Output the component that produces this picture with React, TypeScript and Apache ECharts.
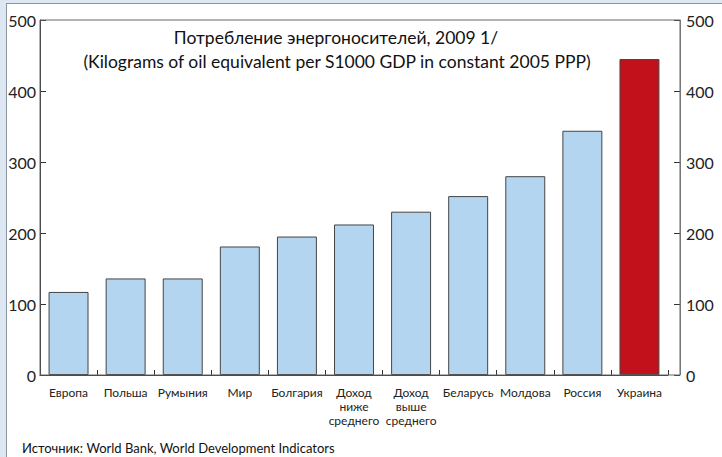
import React, { useEffect, useRef } from "react";
import * as echarts from "echarts";

const categories = [
  "Европа",
  "Польша",
  "Румыния",
  "Мир",
  "Болгария",
  "Доход\nниже\nсреднего",
  "Доход\nвыше\nсреднего",
  "Беларусь",
  "Молдова",
  "Россия",
  "Украина",
];
const values = [117, 136, 136, 181, 195, 212, 230, 252, 280, 344, 445];
const highlightIndex = 10;
const yTicks = { min: 0, max: 500, interval: 100 };
const titleLines = [
  "Потребление энергоносителей, 2009 1/",
  "(Kilograms of oil equivalent per S1000 GDP in constant 2005 PPP)",
];
const sourceText = "Источник: World Bank, World Development Indicators";

const FONT = "Lato, 'Noto Sans', sans-serif";

export default function App() {
  const ref = useRef<HTMLDivElement>(null);
  useEffect(() => {
    if (!ref.current) return;
    const chart = echarts.init(ref.current, null, { renderer: "svg" });
    const option = {
      animation: false,
      textStyle: { fontFamily: FONT },
      grid: { left: 40, right: 54, top: 20, bottom: 82, containLabel: false },
      xAxis: {
        type: "category",
        data: categories,
        axisLine: { show: true, lineStyle: { color: "#333", width: 1 } },
        axisTick: {
          show: true,
          inside: true,
          length: 5,
          lineStyle: { color: "#333" },
        },
        axisLabel: {
          interval: 0,
          fontSize: 12,
          lineHeight: 14,
          color: "#222",
          margin: 10,
          fontFamily: FONT,
        },
      },
      yAxis: [
        {
          type: "value",
          min: yTicks.min,
          max: yTicks.max,
          interval: yTicks.interval,
          position: "left",
          axisLine: { show: true, lineStyle: { color: "#333" } },
          axisTick: { show: true, inside: true, length: 6, lineStyle: { color: "#333" } },
          axisLabel: { fontSize: 16, color: "#222", margin: 4, fontFamily: FONT },
          splitLine: { show: false },
        },
        {
          type: "value",
          min: yTicks.min,
          max: yTicks.max,
          interval: yTicks.interval,
          position: "right",
          offset: 12,
          axisLine: { show: true, lineStyle: { color: "#888" } },
          axisTick: { show: true, inside: true, length: 6, lineStyle: { color: "#333" } },
          axisLabel: { fontSize: 16, color: "#222", margin: 6, fontFamily: FONT },
          splitLine: { show: false },
        },
      ],
      series: [
        {
          type: "bar",
          data: values.map((v, i) => ({
            value: v,
            itemStyle:
              i === highlightIndex
                ? { color: "#c2111b", borderColor: "#444", borderWidth: 1 }
                : { color: "#b4d5ef", borderColor: "#444", borderWidth: 1 },
          })),
          barWidth: "70%",
          yAxisIndex: 0,
        },
      ],
      graphic: [
        {
          type: "rect",
          shape: { x: 40, y: 20, width: 640, height: 355 },
          style: { fill: "none", stroke: "#666", lineWidth: 1 },
          silent: true,
          z: 10,
        },
        {
          type: "text",
          x: 336,
          y: 37,
          style: {
            text: titleLines[0],
            fontSize: 17.5,
            fontFamily: FONT,
            fill: "#111",
            textAlign: "center",
            textVerticalAlign: "middle",
          },
        },
        {
          type: "text",
          x: 337,
          y: 61,
          style: {
            text: titleLines[1],
            fontSize: 17.5,
            fontFamily: FONT,
            fill: "#111",
            textAlign: "center",
            textVerticalAlign: "middle",
          },
        },
        {
          type: "text",
          x: 22,
          y: 448,
          style: {
            text: sourceText,
            fontSize: 13,
            fontFamily: FONT,
            fill: "#111",
            textAlign: "left",
            textVerticalAlign: "middle",
          },
        },
      ],
    };
    chart.setOption(option as any);
    return () => chart.dispose();
  }, []);

  return (
    <div
      style={{
        position: "fixed",
        left: 0,
        top: 0,
        width: 722,
        height: 457,
        background: "#dde7f2",
        overflow: "hidden",
      }}
    >
      <div
        style={{
          position: "absolute",
          left: 6,
          top: 3,
          right: 0,
          bottom: 0,
          background: "#ffffff",
          borderLeft: "1px solid #8a96a3",
          borderTop: "1px solid #8a96a3",
        }}
      />
      <div
        ref={ref}
        style={{ position: "absolute", left: 0, top: 0, width: 722, height: 457 }}
      />
    </div>
  );
}
